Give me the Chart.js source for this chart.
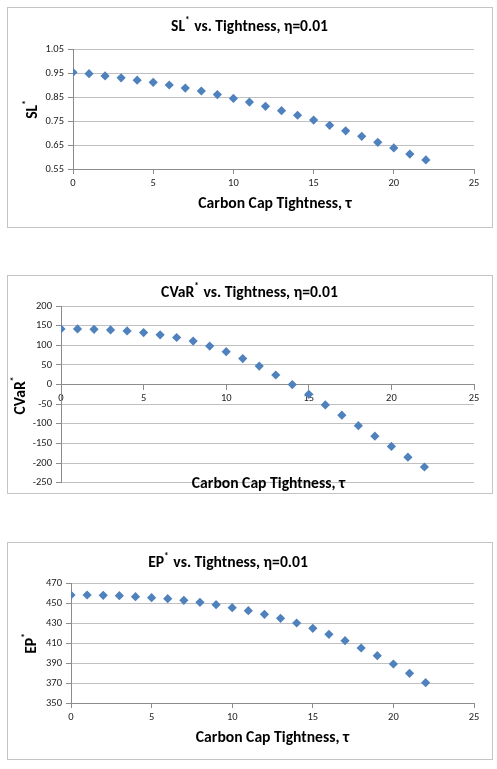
<!DOCTYPE html>
<html><head><meta charset="utf-8">
<script src="https://cdn.jsdelivr.net/npm/chart.js@4/dist/chart.umd.min.js"></script>
<style>
html,body{margin:0;padding:0;background:#fff;width:497px;height:769px;overflow:hidden;}
.box{position:absolute;left:7px;width:486px;box-sizing:border-box;border:1px solid #c4c4c4;background:#fff;}
.box canvas{position:absolute;left:0;top:0;}
</style></head><body>
<div class="box" style="top:7px;height:221px"><canvas id="c1" width="484" height="219" style="width:484px;height:219px"></canvas></div>
<div class="box" style="top:275px;height:219px"><canvas id="c2" width="484" height="217" style="width:484px;height:217px"></canvas></div>
<div class="box" style="top:542px;height:218px"><canvas id="c3" width="484" height="216" style="width:484px;height:216px"></canvas></div>
<script>
// ---- data ----
const tau = [0,1,2,3,4,5,6,7,8,9,10,11,12,13,14,15,16,17,18,19,20,21,22];
const slValues = [0.953,0.947,0.938,0.930,0.920,0.911,0.900,0.887,0.875,0.860,0.844,0.829,0.811,0.793,0.774,0.754,0.732,0.709,0.686,0.661,0.638,0.612,0.588];
const cvarValues = [141.5,141.5,140.7,139,136.5,132.3,126.5,119.8,110.6,98,83.8,66,47,24.3,0,-25,-52,-78,-104.7,-131.5,-157.5,-185,-210];
const epValues = [458,458,457.7,457.3,456.3,455.3,454.3,452.7,450.7,448.3,445.3,442.3,438.7,434.7,430,424.7,418.7,412.3,405,397.3,389,379.7,370.3];
const xTicks = [0,5,10,15,20,25];
const slTicks = [0.55,0.65,0.75,0.85,0.95,1.05];
const cvarTicks = [-250,-200,-150,-100,-50,0,50,100,150,200];
const epTicks = [350,370,390,410,430,450,470];
const xTitle = 'Carbon Cap Tightness, τ';
const titleTail = ' vs. Tightness, η=0.01';

// ---- styling ----
const FONT = 'Carlito, Lato, "Open Sans", sans-serif';
const MARK = '#4F81BD';
const AXIS = '#8c8c8c';
const GRID = '#c0c0c0';

const mctx = document.createElement('canvas').getContext('2d');
function fitSize(text, bold, target) {
  mctx.font = `${bold ? 'bold ' : ''}20px ${FONT}`;
  return 20 * target / mctx.measureText(text).width;
}
const tickSize = Math.round(fitSize('1.05', false, 19) * 2) / 2;
const labelSize = fitSize(xTitle, true, 153.5);

const freeText = {
  id: 'freeText',
  afterDraw(chart, args, opts) {
    const ctx = chart.ctx;
    (opts.items || []).forEach(it => {
      ctx.save();
      ctx.translate(it.x, it.y);
      if (it.rotate) ctx.rotate(-Math.PI / 2);
      let size = it.size;
      const supGap = 1;
      const measure = s => {
        let w = 0;
        it.parts.forEach(p => {
          ctx.font = `bold ${p.sup ? s * 0.6 : s}px ${FONT}`;
          w += ctx.measureText(p.t).width + (p.sup ? supGap : 0);
        });
        return w;
      };
      if (it.width) size = size * it.width / measure(size);
      const total = measure(size);
      let x = -total / 2;
      ctx.textBaseline = 'middle';
      ctx.textAlign = 'left';
      ctx.fillStyle = '#000';
      it.parts.forEach(p => {
        ctx.font = `bold ${p.sup ? size * 0.6 : size}px ${FONT}`;
        ctx.fillText(p.t, x, p.sup ? -size * 0.38 : 0);
        x += ctx.measureText(p.t).width + (p.sup ? supGap : 0);
      });
      ctx.restore();
    });
  }
};

function makeChart(id, values, yTicks, yMin, yMax, decimals, cfg) {
  const xScale = {
    type: 'linear', min: 0, max: 25,
    afterBuildTicks: s => { s.ticks = xTicks.map(v => ({ value: v })); },
    grid: { display: true, drawOnChartArea: false, drawTicks: true, tickLength: 5, tickColor: AXIS },
    border: { display: true, color: AXIS, width: 1 },
    ticks: { padding: 3, color: '#222', font: { family: FONT, size: tickSize }, maxRotation: 0 },
    afterFit: s => { s.height = cfg.xHeight; }
  };
  xScale.position = cfg.xAtZero ? { y: 0 } : 'bottom';
  return new Chart(document.getElementById(id), {
    type: 'scatter',
    data: {
      datasets: [{
        data: tau.map((t, i) => ({ x: t, y: values[i] })),
        pointStyle: 'rectRot', pointRadius: 4.6,
        backgroundColor: MARK, borderColor: MARK, borderWidth: 0, showLine: false
      }]
    },
    options: {
      responsive: false, animation: false, devicePixelRatio: 1,
      layout: { padding: cfg.padding },
      scales: {
        x: xScale,
        y: {
          type: 'linear', min: yMin, max: yMax, position: 'left',
          afterBuildTicks: s => { s.ticks = yTicks.map(v => ({ value: v })); },
          grid: { color: GRID, lineWidth: 1, drawTicks: true, tickLength: 5, tickColor: AXIS },
          border: { display: true, color: AXIS, width: 1 },
          ticks: { padding: 4, color: '#222', font: { family: FONT, size: tickSize },
                   callback: v => Number(v).toFixed(decimals) },
          afterFit: s => { s.width = cfg.yWidth; }
        }
      },
      plugins: {
        legend: { display: false }, tooltip: { enabled: false },
        freeText: { items: cfg.texts }
      }
    },
    plugins: [freeText]
  });
}

makeChart('c1', slValues, slTicks, 0.55, 1.05, 2, {
  padding: { left: 0, top: 41, right: 18, bottom: 0 }, yWidth: 65, xHeight: 58,
  texts: [
    { x: 241.5, y: 19, size: 14, width: 157, parts: [{ t: 'SL' }, { t: '*', sup: true }, { t: titleTail }] },
    { x: 267, y: 196, size: labelSize, parts: [{ t: xTitle }] },
    { x: 25, y: 101, size: labelSize, rotate: true, parts: [{ t: 'SL' }, { t: '*', sup: true }] }
  ]
});

makeChart('c2', cvarValues, cvarTicks, -250, 200, 0, {
  padding: { left: 0, top: 30, right: 18, bottom: 8 }, yWidth: 53, xHeight: 0, xAtZero: true,
  texts: [
    { x: 241.5, y: 17, size: 14, width: 177, parts: [{ t: 'CVaR' }, { t: '*', sup: true }, { t: titleTail }] },
    { x: 260.5, y: 208, size: labelSize, parts: [{ t: xTitle }] },
    { x: 13, y: 119, size: labelSize, rotate: true, parts: [{ t: 'CVaR' }, { t: '*', sup: true }] }
  ]
});

makeChart('c3', epValues, epTicks, 350, 470, 0, {
  padding: { left: 0, top: 40, right: 18, bottom: 0 }, yWidth: 63, xHeight: 56,
  texts: [
    { x: 220, y: 20, size: 14, width: 160, parts: [{ t: 'EP' }, { t: '*', sup: true }, { t: titleTail }] },
    { x: 264.5, y: 195, size: labelSize, parts: [{ t: xTitle }] },
    { x: 24, y: 100, size: labelSize, rotate: true, parts: [{ t: 'EP' }, { t: '*', sup: true }] }
  ]
});
</script>
</body></html>
